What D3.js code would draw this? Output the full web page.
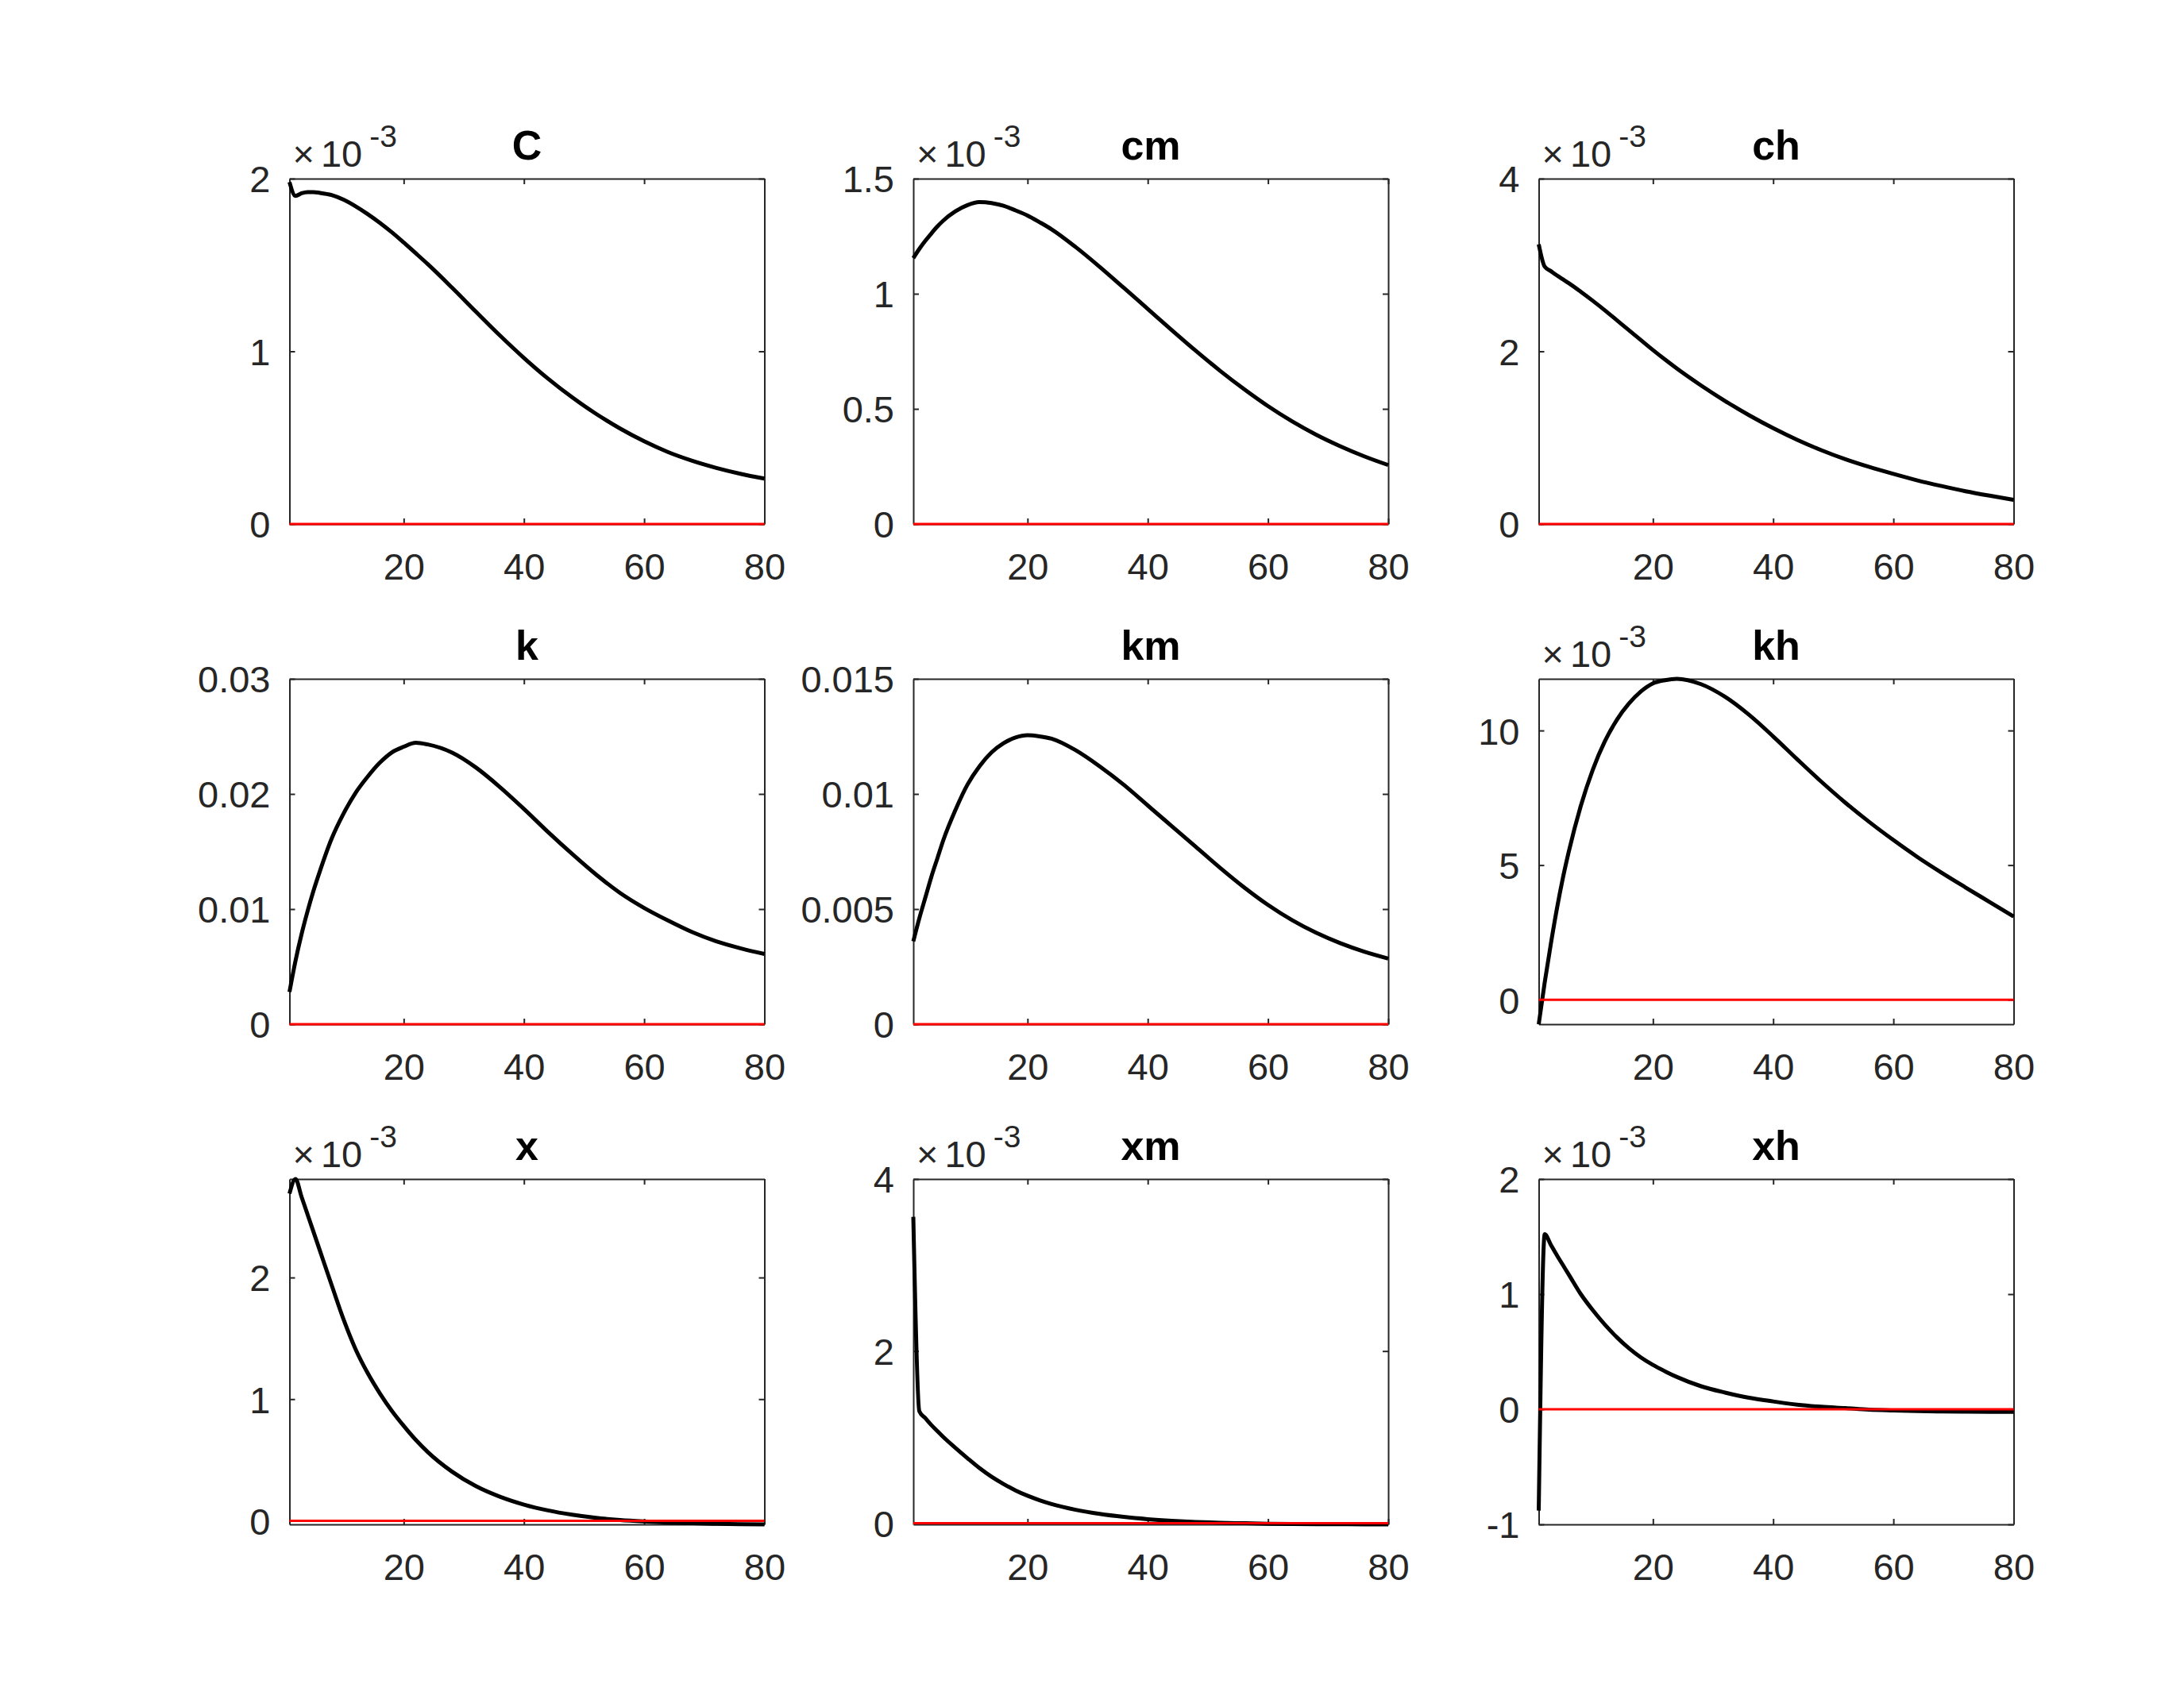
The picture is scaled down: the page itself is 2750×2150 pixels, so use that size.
<!DOCTYPE html>
<html><head><meta charset="utf-8">
<script src="https://cdn.jsdelivr.net/npm/d3@7"></script>
<style>
body{margin:0;background:#fff;}
svg text{font-family:"Liberation Sans",Arial,Helvetica,sans-serif;}
</style></head><body>
<svg id="chart" width="2750" height="2150"></svg>
<script>
const periods = [1,2,3,4,5,6,8,10,12,14,16,18,20,22,24,28,32,36,40,44,48,52,56,60,64,68,72,76,80];
const titles = ["C","cm","ch","k","km","kh","x","xm","xh"];

// Series values, in the units shown on each panel's y axis (x10^-3 where marked)
const seriesC  = [1.98,1.90,1.915,1.922,1.922,1.918,1.905,1.878,1.84,1.795,1.745,1.69,1.63,1.568,1.505,1.37,1.23,1.092,0.962,0.842,0.734,0.638,0.553,0.479,0.416,0.366,0.325,0.291,0.263];
const seriesCm = [1.155,1.195,1.23,1.262,1.292,1.318,1.358,1.385,1.398,1.394,1.382,1.362,1.34,1.311,1.28,1.203,1.117,1.026,0.934,0.842,0.752,0.666,0.586,0.512,0.446,0.388,0.338,0.294,0.256];
const seriesCh = [3.24,2.98,2.93,2.88,2.835,2.79,2.69,2.585,2.475,2.36,2.245,2.13,2.015,1.905,1.80,1.605,1.425,1.26,1.11,0.975,0.855,0.75,0.66,0.58,0.505,0.44,0.38,0.328,0.28];
const seriesK  = [0.0028,0.0055,0.0078,0.0098,0.0116,0.0132,0.0161,0.0183,0.0201,0.0215,0.0227,0.0236,0.0241,0.02445,0.0243,0.0236,0.0223,0.0206,0.0187,0.0167,0.0148,0.0130,0.0114,0.0101,0.0090,0.0080,0.0072,0.0066,0.0061];
const seriesKm = [0.0036,0.0046,0.0055,0.0064,0.0072,0.0080,0.0093,0.0104,0.0112,0.0118,0.0122,0.01245,0.01255,0.0125,0.0124,0.0119,0.0112,0.0104,0.0095,0.0086,0.0077,0.0068,0.00595,0.00518,0.00452,0.00397,0.00352,0.00315,0.00285];
const seriesKh = [-0.91,0.65,2.05,3.35,4.5,5.5,7.2,8.55,9.6,10.4,11.0,11.45,11.75,11.87,11.92,11.72,11.25,10.58,9.78,8.93,8.1,7.32,6.6,5.93,5.3,4.72,4.17,3.63,3.09];
const seriesX  = [2.69,2.81,2.665,2.52,2.375,2.23,1.94,1.655,1.41,1.215,1.05,0.905,0.78,0.665,0.565,0.405,0.285,0.198,0.133,0.085,0.05,0.024,0.006,-0.006,-0.015,-0.021,-0.025,-0.028,-0.03];
const seriesXm = [3.56,1.30,1.22,1.14,1.07,1.00,0.875,0.755,0.64,0.54,0.455,0.38,0.318,0.266,0.222,0.155,0.107,0.072,0.046,0.027,0.013,0.004,-0.002,-0.007,-0.01,-0.012,-0.013,-0.014,-0.014];
const seriesXh = [-0.88,1.52,1.43,1.34,1.255,1.17,1.00,0.86,0.735,0.625,0.53,0.45,0.385,0.33,0.28,0.20,0.145,0.10,0.068,0.04,0.022,0.01,-0.003,-0.01,-0.016,-0.019,-0.021,-0.022,-0.022];
const allSeries = [seriesC,seriesCm,seriesCh,seriesK,seriesKm,seriesKh,seriesX,seriesXm,seriesXh];

// Reference (zero) line
const zeroPeriods = [1,80];
const zeroValues = [0,0];

// Axis limits and ticks
const xDomain = [1,80];
const xTicks = [20,40,60,80];
const xTickLabels = ["20","40","60","80"];
const yDomains = [[0,2],[0,1.5],[0,4],[0,0.03],[0,0.015],[-0.91,11.92],[-0.03,2.81],[-0.015,4],[-1,2]];
const yTicks = [[0,1,2],[0,0.5,1,1.5],[0,2,4],[0,0.01,0.02,0.03],[0,0.005,0.01,0.015],[0,5,10],[0,1,2],[0,2,4],[-1,0,1,2]];
const yTickLabels = [["0","1","2"],["0","0.5","1","1.5"],["0","2","4"],["0","0.01","0.02","0.03"],["0","0.005","0.01","0.015"],["0","5","10"],["0","1","2"],["0","2","4"],["-1","0","1","2"]];
const exponentLabels = ["-3","-3","-3",null,null,"-3","-3","-3","-3"];

// Layout
const colLeft = [364.5,1150,1937.5];
const rowTop = [225,855,1485];
const W = 598, H = 435;
const axisColor = "#262626";
const tickFont = 47;

const svg = d3.select("#chart");
svg.append("rect").attr("width",2750).attr("height",2150).attr("fill","#fff");

titles.forEach((title,i)=>{
  const col = i%3, row = Math.floor(i/3);
  const g = svg.append("g").attr("transform",`translate(${colLeft[col]},${rowTop[row]})`);
  const x = d3.scaleLinear().domain(xDomain).range([0,W]);
  const y = d3.scaleLinear().domain(yDomains[i]).range([H,0]);

  const styleAxis = (ag)=>{
    ag.attr("color",axisColor).attr("font-size",tickFont);
    ag.selectAll(".domain, .tick line").attr("stroke",axisColor).attr("stroke-width",2);
  };

  g.append("g").attr("transform",`translate(0,${H})`)
    .call(d3.axisBottom(x).tickValues(xTicks).tickFormat((d,j)=>xTickLabels[j]).tickSizeInner(-7).tickSizeOuter(0).tickPadding(36.6))
    .call(styleAxis);
  g.append("g")
    .call(d3.axisTop(x).tickValues(xTicks).tickFormat("").tickSizeInner(-7).tickSizeOuter(0))
    .call(styleAxis);
  g.append("g")
    .call(d3.axisLeft(y).tickValues(yTicks[i]).tickFormat((d,j)=>yTickLabels[i][j]).tickSizeInner(-7).tickSizeOuter(0).tickPadding(24))
    .call(styleAxis)
    .call(ag=>ag.selectAll("text").attr("dy","0.36em"));
  g.append("g").attr("transform",`translate(${W},0)`)
    .call(d3.axisRight(y).tickValues(yTicks[i]).tickFormat("").tickSizeInner(-7).tickSizeOuter(0))
    .call(styleAxis);

  const line = d3.line().x((d)=>x(d[0])).y((d)=>y(d[1])).curve(d3.curveMonotoneX);
  g.append("path")
    .datum(periods.map((p,j)=>[p,allSeries[i][j]]))
    .attr("fill","none").attr("stroke","#000").attr("stroke-width",5)
    .attr("stroke-linejoin","round").attr("stroke-linecap","butt")
    .attr("d",line);
  g.append("path")
    .datum(zeroPeriods.map((p,j)=>[p,zeroValues[j]]))
    .attr("fill","none").attr("stroke","#ff0000").attr("stroke-width",3)
    .attr("d",d3.line().x((d)=>x(d[0])).y((d)=>y(d[1])));

  g.append("text").attr("x",W/2).attr("y",-24).attr("text-anchor","middle")
    .attr("font-weight","bold").attr("font-size",52).attr("fill","#000").text(title);

  if(exponentLabels[i]){
    const t = g.append("text").attr("x",4).attr("y",-15).attr("font-size",tickFont).attr("fill",axisColor);
    t.append("tspan").text("\u00d7");
    t.append("tspan").attr("dx",8).text("10");
    t.append("tspan").attr("dx",9).attr("dy",-25).attr("font-size",39).text(exponentLabels[i]);
  }
});
</script>
</body></html>
